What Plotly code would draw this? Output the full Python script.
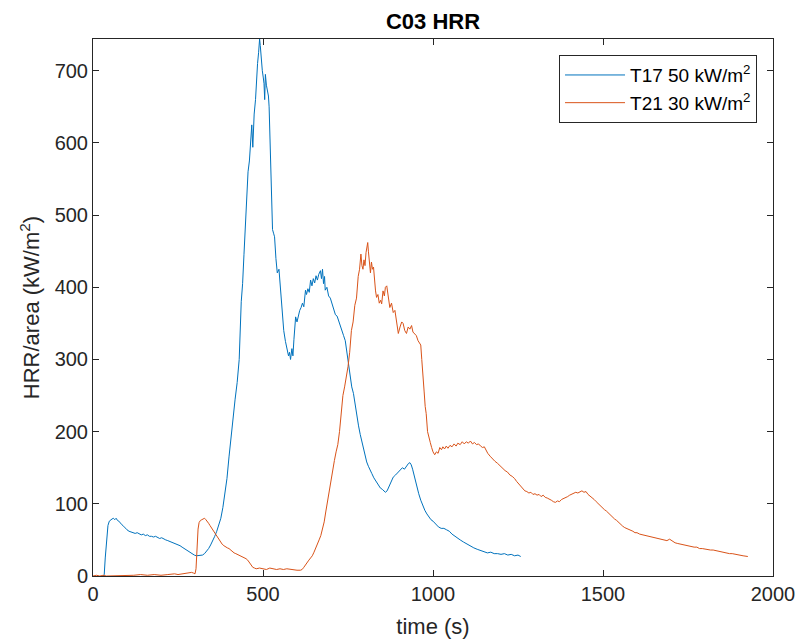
import plotly.graph_objects as go

# ---- data ----
t17_time = [30, 33, 36, 40, 44, 48, 52, 56, 60, 64, 68, 72, 76, 80, 85, 90, 95, 100, 106, 112,
            118, 124, 130, 136, 142, 148, 154, 160, 166, 172, 178, 184, 190, 196, 202, 208, 214, 220, 226, 232,
            238, 244, 250, 256, 262, 268, 274, 280, 286, 292, 298, 304, 310, 316, 322, 328, 334, 340, 346, 352,
            358, 364, 370, 376, 382, 388, 394, 400, 406, 412, 418, 424, 430, 436, 440, 444, 448, 452, 456, 460,
            464, 467, 470, 474, 478, 481, 484, 487, 490, 492, 495, 498, 501, 503, 505, 507, 510, 513, 516, 518,
            520, 522, 525, 528, 531, 534, 538, 542, 547, 552, 556, 561, 566, 571, 575, 578, 581, 585, 588, 591,
            596, 600, 604, 608, 612, 616, 620, 625, 628, 632, 636, 640, 644, 648, 652, 656, 660, 664, 669, 672,
            675, 678, 681, 683, 688, 693, 698, 703, 708, 713, 718, 722, 727, 732, 737, 742, 746, 751, 756, 761,
            766, 771, 776, 781, 786, 790, 795, 800, 805, 810, 815, 820, 826, 832, 839, 845, 851, 856, 860, 865,
            870, 876, 883, 890, 898, 904, 910, 916, 922, 928, 932, 936, 940, 944, 948, 952, 958, 964, 970, 976,
            982, 988, 994, 1000, 1008, 1016, 1024, 1032, 1040, 1048, 1056, 1064, 1072, 1080, 1090, 1100, 1110, 1120, 1130, 1140,
            1150, 1160, 1170, 1180, 1190, 1200, 1210, 1220, 1230, 1240, 1250, 1258]
t17_hrr = [0, 2, 25, 55, 70, 76, 78, 79, 80, 78, 80, 77, 76, 73, 71, 69, 66, 64, 62, 61,
           60, 59, 60, 58, 57, 58, 56, 57, 55, 55, 54, 55, 53, 52, 53, 51, 50, 49, 48, 47,
           46, 45, 43, 42, 40, 38, 36, 34, 32, 30, 29, 28, 28, 28, 29, 31, 34, 38, 43, 48,
           55, 62, 70, 80, 95, 112, 135, 165, 195, 222, 245, 268, 300, 380, 405, 445, 490, 520, 560, 575,
           600, 625, 594, 640, 660, 690, 710, 725, 744, 735, 712, 700, 690, 682, 660, 695, 680, 672, 665, 650,
           610, 570, 530, 480, 475, 470, 440, 420, 425, 395, 365, 340, 325, 312, 305, 310, 300, 315, 305, 328,
           359, 352, 362, 368, 372, 378, 373, 396, 390, 398, 393, 410, 402, 412, 406, 416, 410, 418, 423, 412,
           425, 405, 415, 396, 400, 388, 385, 377, 372, 362, 360, 354, 345, 340, 333, 326, 312, 294, 275, 262,
           253, 236, 220, 208, 196, 188, 175, 165, 158, 152, 146, 142, 136, 131, 126, 122, 120, 118, 116, 118,
           124, 130, 137, 140, 144, 146, 150, 148, 153, 156, 157, 154, 148, 140, 130, 122, 114, 105, 97, 91,
           86, 82, 78, 76, 72, 68, 66, 66, 64, 62, 58, 55, 52, 50, 47, 44, 41, 39, 37, 35,
           33, 32, 33, 31, 31, 30, 31, 29, 30, 28, 29, 27]

t21_time = [0, 10, 20, 30, 40, 60, 80, 100, 120, 140, 160, 180, 200, 220, 240, 250, 260, 270, 280, 290,
            296, 300, 303, 306, 309, 312, 316, 320, 324, 328, 332, 336, 340, 344, 348, 352, 356, 360, 365, 370,
            375, 380, 385, 390, 395, 400, 405, 410, 415, 420, 425, 430, 435, 440, 445, 450, 455, 460, 465, 470,
            475, 480, 490, 500, 510, 520, 530, 540, 550, 560, 570, 580, 590, 600, 610, 615, 620, 625, 630, 635,
            640, 645, 650, 655, 660, 665, 670, 675, 680, 685, 690, 695, 700, 705, 710, 715, 720, 725, 730, 735,
            740, 745, 750, 755, 760, 765, 770, 775, 780, 784, 788, 791, 794, 797, 800, 803, 806, 808, 810, 813,
            816, 819, 822, 825, 828, 831, 834, 838, 842, 846, 849, 853, 857, 860, 864, 868, 873, 878, 883, 888,
            893, 898, 903, 908, 912, 917, 922, 927, 932, 937, 941, 946, 951, 956, 960, 964, 967, 970, 974, 977,
            980, 984, 988, 992, 996, 1000, 1005, 1010, 1015, 1020, 1025, 1029, 1034, 1039, 1044, 1050, 1056, 1062, 1068, 1073,
            1080, 1086, 1092, 1098, 1104, 1110, 1116, 1122, 1128, 1134, 1140, 1146, 1151, 1156, 1161, 1168, 1175, 1182, 1190, 1198,
            1205, 1212, 1219, 1226, 1233, 1240, 1246, 1252, 1258, 1264, 1270, 1276, 1282, 1288, 1294, 1300, 1306, 1312, 1318, 1324,
            1330, 1336, 1342, 1348, 1354, 1360, 1366, 1372, 1378, 1384, 1390, 1396, 1402, 1408, 1414, 1420, 1426, 1432, 1438, 1444,
            1450, 1456, 1462, 1468, 1474, 1480, 1486, 1492, 1498, 1504, 1510, 1516, 1522, 1528, 1534, 1540, 1546, 1552, 1558, 1564,
            1570, 1576, 1582, 1588, 1594, 1600, 1608, 1616, 1624, 1632, 1640, 1648, 1656, 1664, 1672, 1680, 1688, 1696, 1704, 1712,
            1720, 1728, 1736, 1744, 1752, 1760, 1768, 1776, 1784, 1792, 1800, 1808, 1816, 1824, 1832, 1840, 1848, 1856, 1864, 1872,
            1880, 1888, 1896, 1904, 1912, 1926]
t21_hrr = [0, 1, 0, 1, 0, 0, 1, 0, 1, 2, 1, 2, 1, 2, 3, 2, 3, 4, 5, 5,
           4, 3, 10, 40, 65, 74, 77, 78, 79, 80, 78, 76, 73, 70, 67, 64, 61, 58, 54, 50,
           47, 44, 42, 40, 39, 38, 36, 33, 32, 31, 30, 29, 28, 26, 25, 24, 22, 18, 14, 12,
           11, 10, 11, 10, 9, 11, 10, 9, 10, 9, 10, 9, 9, 8, 8, 9, 12, 16, 19, 22,
           25, 28, 33, 38, 44, 50, 56, 65, 75, 90, 105, 120, 135, 148, 160, 172, 182, 200, 225, 250,
           262, 275, 290, 310, 340, 352, 375, 385, 415, 425, 446, 430, 425, 438, 430, 448, 455, 462, 450, 430,
           420, 435, 425, 428, 405, 395, 386, 390, 378, 382, 377, 395, 388, 400, 402, 385, 372, 378, 365, 368,
           350, 336, 345, 352, 350, 340, 336, 345, 342, 347, 338, 335, 333, 326, 322, 320, 300, 285, 255, 235,
           225, 200, 190, 185, 178, 172, 168, 172, 170, 178, 175, 179, 176, 180, 177, 181, 179, 183, 180, 184,
           182, 186, 183, 186, 184, 187, 183, 185, 182, 183, 180, 178, 179, 174, 170, 166, 162, 159, 156, 152,
           149, 146, 144, 140, 138, 135, 131, 128, 124, 121, 118, 117, 115, 116, 113, 114, 112, 113, 110, 112,
           109, 108, 107, 105, 103, 102, 104, 103, 106, 107, 109, 110, 112, 113, 114, 116, 115, 117, 118, 116,
           117, 113, 111, 108, 106, 103, 100, 97, 95, 92, 90, 87, 84, 81, 79, 77, 74, 72, 69, 67,
           66, 64, 63, 62, 60, 60, 58, 57, 56, 55, 54, 53, 52, 51, 50, 50, 49, 51, 48, 46,
           45, 44, 43, 42, 41, 41, 40, 40, 38, 38, 37, 37, 36, 36, 35, 34, 33, 33, 32, 31,
           31, 30, 30, 29, 28, 27]

series_names = ["T17 50 kW/m<sup>2</sup>", "T21 30 kW/m<sup>2</sup>"]
series_colors = ["#0072BD", "#D95319"]
x_ticks = [0, 500, 1000, 1500, 2000]
y_ticks = [0, 100, 200, 300, 400, 500, 600, 700]

AX = "#262626"
FONT = "Liberation Sans, Arial, Helvetica, sans-serif"

fig = go.Figure()
fig.add_trace(go.Scatter(x=t17_time, y=t17_hrr, mode="lines", name=series_names[0],
                         line=dict(color=series_colors[0], width=1)))
fig.add_trace(go.Scatter(x=t21_time, y=t21_hrr, mode="lines", name=series_names[1],
                         line=dict(color=series_colors[1], width=1)))

axis_common = dict(showline=True, linecolor=AX, linewidth=1, mirror="ticks",
                   ticks="inside", ticklen=6, tickcolor=AX, tickwidth=1,
                   showgrid=False, zeroline=False, automargin=False,
                   ticklabeloverflow="allow",
                   tickfont=dict(family=FONT, size=20, color=AX))

fig.update_layout(
    width=797, height=641,
    margin=dict(l=93, r=24, t=39, b=65),
    paper_bgcolor="white", plot_bgcolor="white",
    title=dict(text="<b>C03 HRR</b>", x=0.5, xref="paper", xanchor="center",
               y=1 - 21 / 641, yref="container", yanchor="middle",
               font=dict(family=FONT, size=22, color="black")),
    xaxis=dict(range=[0, 2000], tickvals=x_ticks,
               title=dict(text="time (s)", font=dict(family=FONT, size=22, color=AX), standoff=14),
               **axis_common),
    yaxis=dict(range=[0, 744], tickvals=y_ticks,
               title=dict(text="HRR/area (kW/m<sup>2</sup>)", font=dict(family=FONT, size=22, color=AX), standoff=8),
               **axis_common),
    legend=dict(x=0.9765, xanchor="right", y=0.970, yanchor="top",
                bordercolor=AX, borderwidth=1, bgcolor="white",
                font=dict(family=FONT, size=19, color="black"),
                tracegroupgap=0, itemwidth=60),
    showlegend=True,
)

# remove the default page margin so the figure fills the window exactly
fig.write_html("out.html",
               config={"displayModeBar": False},
               post_script="document.body.style.margin='0';document.body.style.overflow='hidden';")
